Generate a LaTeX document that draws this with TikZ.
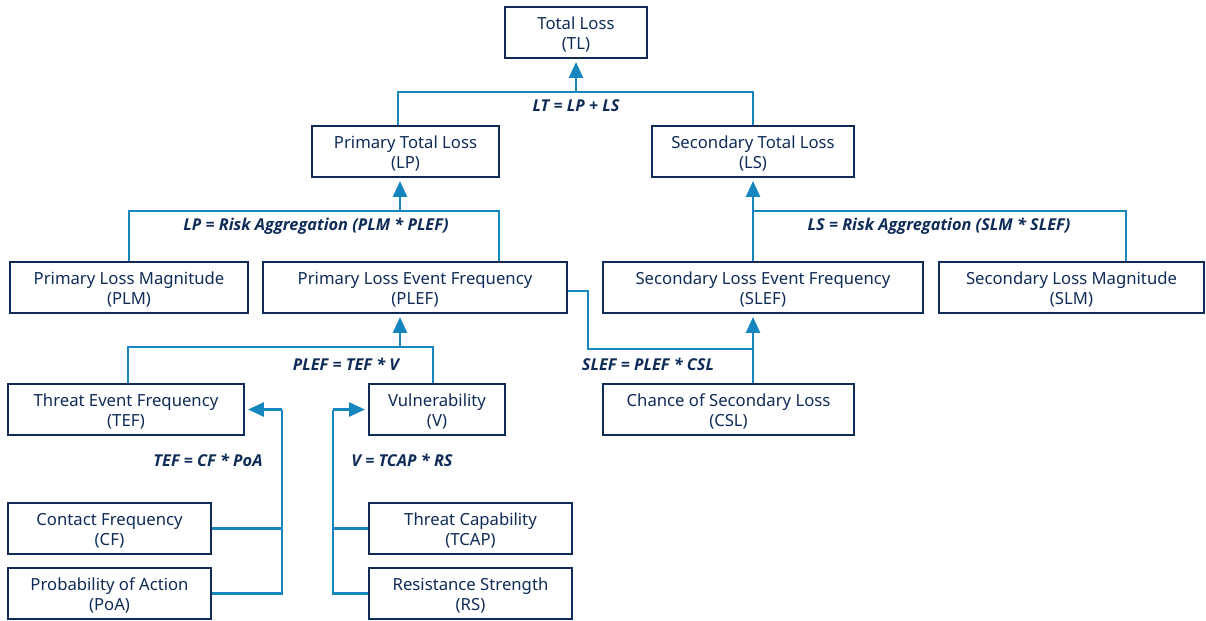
\documentclass[tikz,border=0pt]{standalone}
\usepackage{fontspec}
\setmainfont{Noto Sans}
\newfontfamily\eqfont{Open Sans}
\usetikzlibrary{arrows.meta}
\definecolor{navy}{HTML}{0F2B57}
\definecolor{linkblue}{HTML}{1587BE}
\begin{document}
\begin{tikzpicture}[x=0.02cm, y=-0.02cm,
    box/.style={draw=navy, line width=1.6pt, text=navy, align=center,
        minimum height=1.02cm, inner sep=0pt,
        font=\fontsize{9.5}{11.3}\selectfont},
    link/.style={draw=linkblue, line width=1.3pt},
    arrow/.style={link, -{Triangle[length=9pt, width=8pt]}, shorten >=1.5pt},
    eq/.style={text=navy, font=\eqfont\fontsize{9.3}{11.3}\selectfont\bfseries\itshape}]
    \useasboundingbox (0,0) rectangle (1206,620);

    % 方框: 名称/中心x/中心y/宽度/文字
    \foreach \n/\x/\y/\w/\t in {
        tl/576/32.5/142/{Total Loss\\(TL)},
        lp/405.5/151.5/187/{Primary Total Loss\\(LP)},
        ls/753/151.5/202/{Secondary Total Loss\\(LS)},
        plm/129/287.5/238/{Primary Loss Magnitude\\(PLM)},
        plef/415/287.5/304/{Primary Loss Event Frequency\\(PLEF)},
        slef/763/287.5/320/{Secondary Loss Event Frequency\\(SLEF)},
        slm/1071.5/287.5/265/{Secondary Loss Magnitude\\(SLM)},
        tef/126/409.5/236/{Threat Event Frequency\\(TEF)},
        v/437/409.5/136/{Vulnerability\\(V)},
        csl/728.5/409.5/251/{Chance of Secondary Loss\\(CSL)},
        cf/109.5/528.5/203/{Contact Frequency\\(CF)},
        tcap/470.5/528.5/203/{Threat Capability\\(TCAP)},
        poa/109.5/593.5/203/{Probability of Action\\(PoA)},
        rs/470.5/593.5/203/{Resistance Strength\\(RS)}} {
        \node[box, minimum width={\w*0.02cm}] (\n) at (\x,\y) {\rule{0pt}{9.6pt}\t};
    }

    % 连接点
    \coordinate (tj) at (576,92);
    \coordinate (lj) at (400,211);
    \coordinate (rj) at (753,211);
    \coordinate (pj) at (400,347);
    \coordinate (bj) at (588,349);
    \coordinate (sj) at (753,349);
    \coordinate (cj) at (282,409.5);
    \coordinate (vj) at (333,409.5);

    % TL = LP + LS
    \draw[link] ([xshift=-0.15cm]lp.north) |- (tj) -| (ls.north);
    \draw[arrow] (tj) -- (tl.south);
    \node[eq] (eqtl) at (576,106) {LT = LP + LS};

    % LP
    \draw[link] (plm.north) |- (lj) -| ([xshift=1.68cm]plef.north);
    \draw[arrow] (lj) -- (lp.south -| lj);
    \node[eq] (eqlp) at (316,226) {LP = Risk Aggregation (PLM * PLEF)};

    % LS
    \draw[link] (slef.north -| rj) -- (rj) -| ([xshift=1.09cm]slm.north);
    \draw[arrow] (rj) -- (ls.south);
    \node[eq] (eqls) at (939,226) {LS = Risk Aggregation (SLM * SLEF)};

    % PLEF
    \draw[link] ([xshift=0.04cm]tef.north) |- (pj) -| ([xshift=-0.08cm]v.north);
    \draw[arrow] (pj) -- (plef.south -| pj);
    \node[eq] (eqplef) at (346,364) {PLEF = TEF * V};

    % SLEF
    \draw[link] ([yshift=-0.07cm]plef.east) -| (bj) -- (sj);
    \draw[arrow] (csl.north -| sj) -- (slef.south -| sj);
    \node[eq] (eqslef) at (648,364) {SLEF = PLEF * CSL};

    % TEF
    \draw[link] (cf.east) -| (cj);
    \draw[link] (poa.east) -| (cj);
    \draw[arrow] (cj) -- (tef.east);
    \node[eq] (eqtef) at (208,460) {TEF = CF * PoA};

    % V
    \draw[link] (tcap.west) -| (vj);
    \draw[link] (rs.west) -| (vj);
    \draw[arrow] (vj) -- (v.west);
    \node[eq] (eqv) at (402,460) {V = TCAP * RS};
\end{tikzpicture}
\end{document}
